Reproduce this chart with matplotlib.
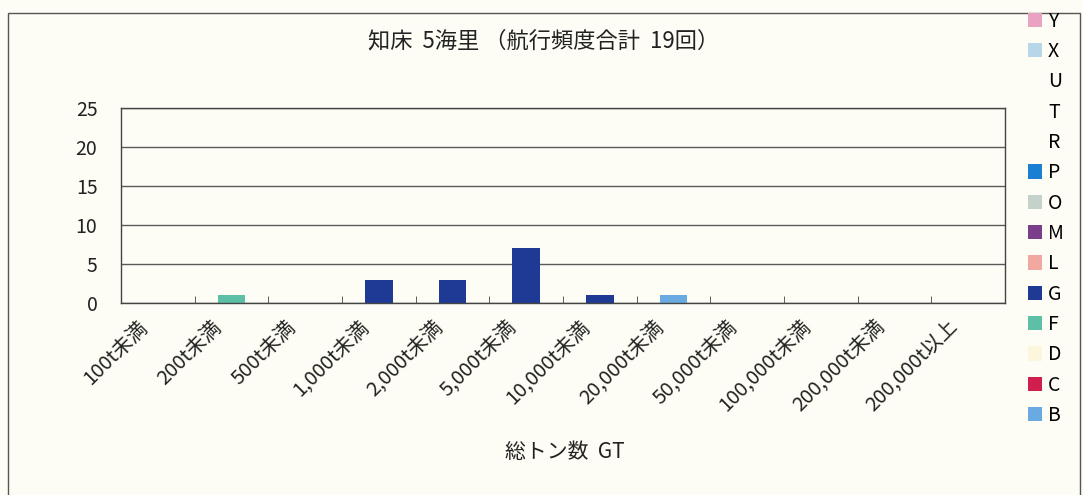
import matplotlib.pyplot as plt
import matplotlib.patches as mpatches
import matplotlib.transforms as mtransforms
import numpy as np

plt.rcParams['font.family'] = ['Noto Sans CJK JP', 'DejaVu Sans']

# 区分（総トン数）
categories = ['100t未満', '200t未満', '500t未満', '1,000t未満', '2,000t未満', '5,000t未満',
              '10,000t未満', '20,000t未満', '50,000t未満', '100,000t未満', '200,000t未満', '200,000t以上']

# 船種別の航行回数（積み上げ順：下から）
series_names = ['B', 'C', 'D', 'F', 'G', 'L', 'M', 'O', 'P', 'R', 'T', 'U', 'X', 'Y']
series_colors = ['#6aaae2', '#d01f4c', '#fbf6dc', '#5cbfa6', '#1e3a94', '#f0a8a0', '#7a3f88',
                 '#c4d2cc', '#1a7ed2', '#ffffff', '#ffffff', '#ffffff', '#b8d6ea', '#eaa2c2']
vals_B = [0, 0, 0, 0, 0, 0, 0, 1, 0, 0, 0, 0]
vals_F = [0, 1, 0, 0, 0, 0, 0, 0, 0, 0, 0, 0]
vals_G = [0, 0, 0, 3, 3, 7, 1, 0, 0, 0, 0, 0]
zeros = [0] * 12
series_values = {'B': vals_B, 'F': vals_F, 'G': vals_G}

yticks = [0, 5, 10, 15, 20, 25]
title = '知床  5海里 （航行頻度合計  19回）'
xlabel = '総トン数  GT'

bg = '#fdfdf5'
fig = plt.figure(figsize=(10.83, 4.95), dpi=100, facecolor=bg)
ax = fig.add_axes([121 / 1083, 1 - 303 / 495, (1005 - 121) / 1083, (303 - 108) / 495])
ax.set_facecolor(bg)

x = np.arange(len(categories))
bottom = np.zeros(len(categories))
handles = []
for name, color in zip(series_names, series_colors):
    v = np.array(series_values.get(name, zeros), dtype=float)
    ax.bar(x, v, width=0.38, bottom=bottom, color=color, edgecolor='none')
    bottom += v
    if color == '#ffffff':
        handles.append(mpatches.Patch(facecolor='none', edgecolor='none', label=name))
    else:
        handles.append(mpatches.Patch(facecolor=color, edgecolor='none', label=name))

ax.set_xlim(-0.5, len(categories) - 0.5)
ax.set_ylim(0, 25)
ax.set_yticks(yticks)
ax.yaxis.grid(True, color='#5a5a5a', linewidth=1.0)
ax.set_axisbelow(True)
for s in ax.spines.values():
    s.set_color('#444444')
    s.set_linewidth(1.0)

ax.tick_params(axis='y', length=0, pad=17, labelsize=14, labelcolor='#222222')
ax.set_xticks(x)
ax.set_xticklabels(categories, rotation=45, ha='right', va='center', rotation_mode='anchor',
                   fontsize=14.5, color='#222222')
ax.tick_params(axis='x', which='major', length=0, pad=15)
shift = mtransforms.ScaledTranslation(-13 / 100, 0, fig.dpi_scale_trans)
for lbl in ax.get_xticklabels():
    lbl.set_transform(lbl.get_transform() + shift)
ax.set_xticks(np.arange(len(categories) + 1) - 0.5, minor=True)
ax.tick_params(axis='x', which='minor', direction='in', length=5, color='#444444')

fig.text(544 / 1083, 1 - 41 / 495, title, ha='center', va='center', fontsize=16, color='#222222')
fig.text(565 / 1083, 1 - 452 / 495, xlabel, ha='center', va='center', fontsize=15, color='#222222')

# 外枠
fig.patches.append(mpatches.Rectangle((8 / 1083, -0.02), 1072 / 1083, 1 - 13 / 495 + 0.02,
                                      transform=fig.transFigure, fill=False,
                                      edgecolor='#555555', linewidth=1.0))

fig.legend(handles=handles[::-1], loc='upper left', bbox_to_anchor=(1014 / 1083, 1 + 3 / 495),
           frameon=False, fontsize=14, handlelength=0.75, handleheight=0.75,
           handletextpad=0.3, labelspacing=0.48, borderpad=0.2)

fig.savefig('out.png', dpi=100, facecolor=bg)
